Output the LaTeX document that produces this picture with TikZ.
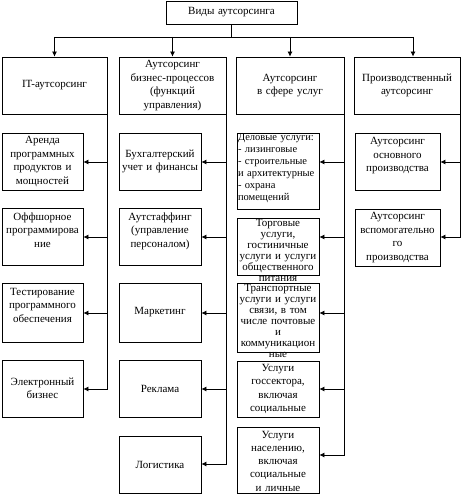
\documentclass[tikz,border=0pt]{standalone}
\usepackage{fontspec}
\setmainfont{Liberation Serif}
\usetikzlibrary{arrows.meta}
\tikzset{
  cell/.style={draw, line width=0.8pt, inner sep=1pt, align=center,
    font=\fontsize{11}{13.5}\selectfont},
  headbox/.style={cell, minimum height=57pt},
  itbox/.style={cell, text width=79pt, minimum height=57pt},
  bpbox/.style={cell, text width=80pt, minimum height=57pt},
  svcbox/.style={cell, text width=80pt, minimum height=57pt},
  prodbox/.style={cell, text width=83pt, minimum height=57pt},
  dense/.style={font=\fontsize{11}{#1}\selectfont},
  topfill/.style 2 args={text height=#1, text depth=#2},
  link/.style={line width=0.8pt},
  arr/.style={line width=0.8pt, -{Latex[length=5pt,width=5pt]}}
}
\begin{document}
\begin{tikzpicture}[x=1pt,y=-1pt]
\useasboundingbox (0,0) rectangle (462,494);
% root and first level
\node[cell, text width=129pt, minimum height=23pt] (root) at (231.5,12.5) {Виды аутсорсинга};
\coordinate (split) at (231.5,37);
\node[headbox, text width=103pt] (it) at (54.5,85.5) {IT-аутсорсинг};
\node[headbox, text width=105pt] (bp) at (172.5,85.5) {Аутсорсинг\\бизнес-процессов\\(функций\\управления)};
\node[headbox, text width=106pt] (svc) at (290,85.5) {Аутсорсинг\\в сфере услуг};
\node[headbox, text width=104pt] (prod) at (407,85.5) {Производственный\\аутсорсинг};
\draw[link] (root.south) -- (split);
\draw[link] (it.north |- split) -- ([xshift=6pt]prod.north |- split);
\draw[arr] (it.north |- split) -- (it.north);
\draw[arr] (bp.north |- split) -- (bp.north);
\draw[arr] (svc.north |- split) -- (svc.north);
\draw[arr] ([xshift=6pt]prod.north |- split) -- ([xshift=6pt]prod.north);
% rows of the side arrows
\coordinate (r1) at (0,162);
\coordinate (r2) at (0,237);
\coordinate (r3) at (0,313);
\coordinate (r4) at (0,389);
\coordinate (r5) at (0,464);
\coordinate (r6) at (0,455);
% IT
\node[itbox] (itA) at (42.5,161.5) {Аренда\\программных\\продуктов и\\мощностей};
\node[itbox, topfill={11pt}{44pt}] (itB) at (42.5,236.5) {Оффшорное\\программирова\\ние};
\node[itbox, topfill={11pt}{46pt}] (itC) at (42.5,312.5) {Тестирование\\программного\\обеспечения};
\node[itbox] (itD) at (42.5,388.5) {Электронный\\бизнес};
% business processes
\node[bpbox] (bpA) at (160,161.5) {Бухгалтерский\\учет и финансы};
\node[bpbox, topfill={11pt}{44pt}] (bpB) at (160,236.5) {Аутстаффинг\\(управление\\персоналом)};
\node[bpbox, minimum height=59pt] (bpC) at (160,312.5) {Маркетинг};
\node[bpbox] (bpD) at (160,388.5) {Реклама};
\node[bpbox] (bpE) at (160,464.5) {Логистика};
% services
\node[svcbox, align=left, font=\fontsize{10.5}{12}\selectfont, topfill={7pt}{67pt}] (svcA) at (278,171) {Деловые услуги:\\- лизинговые\\- строительные\\\mbox{и архитектурные}\\- охрана\\помещений};
\node[svcbox, dense=11pt, topfill={7pt}{48pt}] (svcB) at (278,246.5) {Торговые\\услуги,\\гостиничные\\услуги и услуги\\общественного\\питания};
\node[svcbox, dense=11pt, topfill={7pt}{60pt}] (svcC) at (278,317.5) {Транспортные\\услуги и услуги\\связи, в том\\числе почтовые\\и\\коммуникацион\\ные};
\node[svcbox, minimum height=56pt] (svcD) at (278,389) {Услуги\\госсектора,\\включая\\социальные};
\node[svcbox, dense=13.3pt, topfill={10pt}{54pt}] (svcE) at (278,460) {Услуги\\населению,\\включая\\социальные\\и личные};
% production
\node[prodbox, topfill={11pt}{44pt}] (prodA) at (397.5,161.5) {Аутсорсинг\\основного\\производства};
\node[prodbox] (prodB) at (397.5,237.5) {Аутсорсинг\\вспомогательно\\го\\производства};
% side arrows
\draw[arr] (it.south east) |- (itA.east |- r1);
\draw[arr] (it.south east) |- (itB.east |- r2);
\draw[arr] (it.south east) |- (itC.east |- r3);
\draw[arr] (it.south east) |- (itD.east |- r4);
\draw[arr] (bp.south east) |- (bpA.east |- r1);
\draw[arr] (bp.south east) |- (bpB.east |- r2);
\draw[arr] (bp.south east) |- (bpC.east |- r3);
\draw[arr] (bp.south east) |- (bpD.east |- r4);
\draw[arr] (bp.south east) |- (bpE.east |- r5);
\draw[arr] (svc.south east) |- (svcA.east |- r1);
\draw[arr] (svc.south east) |- (svcB.east |- r2);
\draw[arr] (svc.south east) |- (svcC.east |- r3);
\draw[arr] (svc.south east) |- (svcD.east |- r4);
\draw[arr] (svc.south east) |- (svcE.east |- r6);
\draw[arr] (prod.south east) |- (prodA.east |- r1);
\draw[arr] (prod.south east) |- (prodB.east |- r2);
\end{tikzpicture}
\end{document}
